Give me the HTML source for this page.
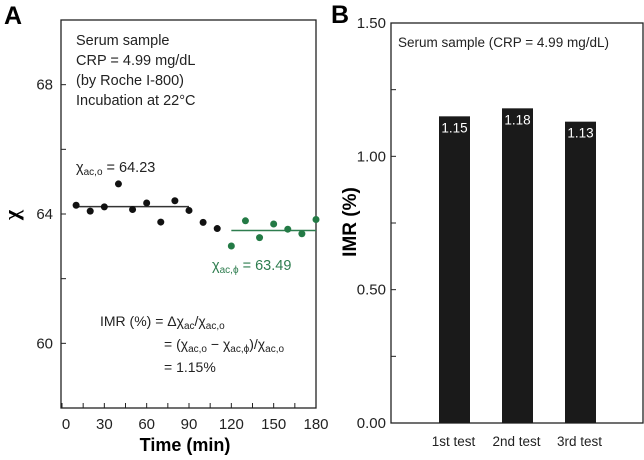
<!DOCTYPE html>
<html><head><meta charset="utf-8"><style>
body{margin:0;background:#fff;width:644px;height:455px;overflow:hidden}
svg{font-family:"Liberation Sans",Arial,sans-serif}
</style></head><body>
<svg id="c" width="644" height="455"></svg>
<script>
const timesA=[10,20,30,40,50,60,70,80,90,100,110];
const chiA=[64.27,64.09,64.22,64.93,64.14,64.34,63.75,64.41,64.11,63.74,63.55];
const timesB=[120,130,140,150,160,170,180];
const chiB=[63.01,63.79,63.27,63.69,63.53,63.39,63.83];
const meanO=64.23, meanPhi=63.49;
const xTicksA=[0,30,60,90,120,150,180];
const yTicksA=[60,64,68];
const cats=["1st test","2nd test","3rd test"];
const imr=[1.15,1.18,1.13];
const imrLabels=["1.15","1.18","1.13"];
const yTicksB=["0.00","0.50","1.00","1.50"];

const NS="http://www.w3.org/2000/svg", svg=document.getElementById('c');
function el(t,a,txt,p){const e=document.createElementNS(NS,t);for(const k in a)e.setAttribute(k,a[k]);if(txt!=null)e.textContent=txt;(p||svg).appendChild(e);return e;}
// Panel A scales
const xA=v=>62+(v/180)*254, yA=v=>408-(v-58)/12*388;
const gA=el('g',{});
let t=el('text',{x:4,y:24,'font-size':25,'font-weight':'bold'},'A',gA);
let r=el('rect',{x:61,y:20,width:255,height:388,fill:'none',stroke:'#222','stroke-width':1.3},null,gA);
for(let v=0;v<=180;v+=15){const l=el('line',{x1:xA(v),x2:xA(v),y1:408,y2:403,stroke:'#222'},null,gA);}
xTicksA.forEach(v=>{const e=el('text',{x:xA(v)+(v===0?4:0),y:429,'font-size':15,'text-anchor':'middle',fill:'#222'},v,gA);});
for(let v=60;v<=68;v+=2){const l=el('line',{x1:61,x2:66,y1:yA(v),y2:yA(v),stroke:'#222'},null,gA);}
yTicksA.forEach(v=>{const e=el('text',{x:53,y:yA(v)+5,'font-size':15,'text-anchor':'end',fill:'#222'},v,gA);});
t=el('text',{x:185,y:451,'font-size':18,'font-weight':'bold','text-anchor':'middle'},'Time (min)',gA);
t=el('text',{x:0,y:0,'font-size':22,'font-weight':'bold',transform:'translate(19,215) rotate(-90)','text-anchor':'middle','font-family':'Liberation Serif,serif'},'χ',gA);
const info=["Serum sample","CRP = 4.99 mg/dL","(by Roche I-800)","Incubation at 22°C"];
info.forEach((s,i)=>{const e=el('text',{x:76,y:45+i*20,'font-size':14.5,fill:'#222'},s,gA);});
let l=el('line',{x1:xA(10),x2:xA(90),y1:yA(meanO),y2:yA(meanO),stroke:'#333','stroke-width':1.5},null,gA);
l=el('line',{x1:xA(120),x2:xA(180),y1:yA(meanPhi),y2:yA(meanPhi),stroke:'#2e7d4f','stroke-width':1.5},null,gA);
timesA.forEach((v,i)=>{const c=el('circle',{cx:xA(v),cy:yA(chiA[i]),r:3.5,fill:'#111'},null,gA);});
timesB.forEach((v,i)=>{const c=el('circle',{cx:xA(v),cy:yA(chiB[i]),r:3.5,fill:'#237a45'},null,gA);});
t=el('text',{x:76,y:172,'font-size':14.5,fill:'#222'},null,gA);t.innerHTML='χ<tspan font-size="10" dy="3">ac,o</tspan><tspan dy="-3"> = 64.23</tspan>';
t=el('text',{x:212,y:270,'font-size':14.5,fill:'#2e7d4f'},null,gA);t.innerHTML='χ<tspan font-size="10" dy="3">ac,ϕ</tspan><tspan dy="-3"> = 63.49</tspan>';
t=el('text',{x:100,y:326,'font-size':14,fill:'#222'},null,gA);t.innerHTML='IMR (%)  =  Δχ<tspan font-size="10" dy="3">ac</tspan><tspan dy="-3">/χ</tspan><tspan font-size="10" dy="3">ac,o</tspan>';
t=el('text',{x:164,y:349,'font-size':14,fill:'#222'},null,gA);t.innerHTML='= (χ<tspan font-size="10" dy="3">ac,o</tspan><tspan dy="-3"> − χ</tspan><tspan font-size="10" dy="3">ac,ϕ</tspan><tspan dy="-3">)/χ</tspan><tspan font-size="10" dy="3">ac,o</tspan>';
t=el('text',{x:164,y:372,'font-size':14,fill:'#222'},'= 1.15%',gA);
// Panel B
const yB=v=>423-v/1.5*400;
const gB=el('g',{});
t=el('text',{x:331,y:23,'font-size':25,'font-weight':'bold'},'B',gB);
r=el('rect',{x:391,y:23,width:252,height:400,fill:'none',stroke:'#222','stroke-width':1.3},null,gB);
for(let v=0;v<=1.5001;v+=0.25){const k=el('line',{x1:391,x2:396,y1:yB(v),y2:yB(v),stroke:'#222'},null,gB);}
yTicksB.forEach(s=>{const e=el('text',{x:386,y:yB(parseFloat(s))+5,'font-size':15,'text-anchor':'end',fill:'#222'},s,gB);});
t=el('text',{x:0,y:0,'font-size':19,'font-weight':'bold',transform:'translate(356,222) rotate(-90)','text-anchor':'middle'},'IMR (%)',gB);
t=el('text',{x:398,y:47,'font-size':13.5,fill:'#222'},'Serum sample (CRP = 4.99 mg/dL)',gB);
const xB=i=>454.5+i*63;
cats.forEach((c,i)=>{
 const b=el('rect',{x:xB(i)-15.5,y:yB(imr[i]),width:31,height:423-yB(imr[i]),fill:'#1a1a1a'},null,gB);
 const v=el('text',{x:xB(i),y:yB(imr[i])+16,'font-size':13.5,fill:'#fff','text-anchor':'middle'},imrLabels[i],gB);
 const lb=el('text',{x:xB(i)-1,y:446,'font-size':13.5,fill:'#222','text-anchor':'middle'},c,gB);
});
</script>
</body></html>
